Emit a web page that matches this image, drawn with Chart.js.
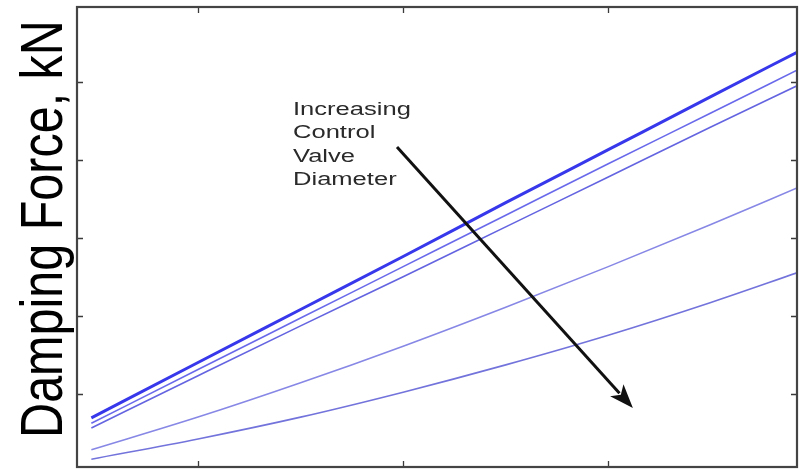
<!DOCTYPE html>
<html>
<head>
<meta charset="utf-8">
<script src="https://cdn.jsdelivr.net/npm/chart.js@4"></script>
<style>
  html, body { margin: 0; padding: 0; background: #ffffff; }
  #wrap { width: 799px; height: 469px; }
</style>
</head>
<body>
<div id="wrap"><canvas id="chart" width="799" height="469"></canvas></div>
<script>
// Piston velocity (m/s) sample points shared by all curves
const velocity = [0.48, 1.0, 1.5, 2.0, 2.5, 3.0, 3.5, 3.92];

// Damping force (kN) for each control valve diameter, smallest valve first
const forceValve1 = [0.69, 1.40, 2.08, 2.76, 3.45, 4.13, 4.81, 5.38];
const forceValve2 = [0.62, 1.31, 1.97, 2.63, 3.29, 3.95, 4.60, 5.15];
const forceValve3 = [0.56, 1.23, 1.87, 2.50, 3.14, 3.78, 4.42, 4.95];
const forceValve4 = [0.28, 0.70, 1.14, 1.61, 2.11, 2.63, 3.17, 3.64];
const forceValve5 = [0.16, 0.42, 0.70, 1.02, 1.37, 1.75, 2.17, 2.55];

// Axis tick positions (no tick labels are printed)
const xTickValues = [1, 2, 3];
const yTickValues = [1, 2, 3, 4, 5];

// Annotation: label lines and arrow (data coordinates)
const noteLines = ['Increasing', 'Control', 'Valve', 'Diameter'];
const noteAnchor = { x: 1.463, y: 4.575 };
const arrowFrom = { x: 1.970, y: 4.164 };
const arrowTo = { x: 3.120, y: 0.817 };

const series = [
  { data: forceValve1, color: 'rgb(55, 55, 235)', width: 3 },
  { data: forceValve2, color: 'rgb(105, 105, 235)', width: 1.6 },
  { data: forceValve3, color: 'rgb(100, 100, 225)', width: 1.6 },
  { data: forceValve4, color: 'rgb(135, 135, 230)', width: 1.6 },
  { data: forceValve5, color: 'rgb(115, 115, 220)', width: 1.6 }
];

const datasets = series.map(s => ({
  data: velocity.map((v, i) => ({ x: v, y: s.data[i] })),
  borderColor: s.color,
  borderWidth: s.width,
  pointRadius: 0,
  fill: false,
  cubicInterpolationMode: 'monotone'
}));

// Frame with inward tick marks on all four sides
const framePlugin = {
  id: 'frame',
  afterDatasetsDraw(chart) {
    const { ctx, chartArea: a, scales } = chart;
    ctx.save();
    ctx.strokeStyle = '#3a3a3a';
    ctx.lineWidth = 1.3;
    const tl = 6;
    ctx.beginPath();
    xTickValues.forEach(v => {
      const px = Math.round(scales.x.getPixelForValue(v)) + 0.5;
      ctx.moveTo(px, a.bottom); ctx.lineTo(px, a.bottom - tl);
      ctx.moveTo(px, a.top); ctx.lineTo(px, a.top + tl);
    });
    yTickValues.forEach(v => {
      const py = Math.round(scales.y.getPixelForValue(v)) + 0.5;
      ctx.moveTo(a.left, py); ctx.lineTo(a.left + tl, py);
      ctx.moveTo(a.right, py); ctx.lineTo(a.right - tl, py);
    });
    ctx.stroke();
    ctx.lineWidth = 2.2;
    ctx.strokeStyle = '#444444';
    ctx.strokeRect(a.left, a.top, a.right - a.left, a.bottom - a.top);
    ctx.restore();
  }
};

// Annotation text, arrow and the rotated y-axis title
const notePlugin = {
  id: 'notes',
  afterDraw(chart) {
    const { ctx, scales } = chart;
    ctx.save();
    // annotation lines
    ctx.fillStyle = '#2a2a2a';
    ctx.font = '17.5px "Liberation Sans", Arial, sans-serif';
    ctx.textBaseline = 'alphabetic';
    ctx.textAlign = 'left';
    const nx = scales.x.getPixelForValue(noteAnchor.x);
    const ny = scales.y.getPixelForValue(noteAnchor.y);
    noteLines.forEach((t, i) => {
      ctx.save();
      ctx.translate(nx, ny + i * 23.5);
      ctx.scale(1.46, 1);
      ctx.fillText(t, 0, 0);
      ctx.restore();
    });
    // arrow
    const x1 = scales.x.getPixelForValue(arrowFrom.x);
    const y1 = scales.y.getPixelForValue(arrowFrom.y);
    const x2 = scales.x.getPixelForValue(arrowTo.x);
    const y2 = scales.y.getPixelForValue(arrowTo.y);
    const ang = Math.atan2(y2 - y1, x2 - x1);
    const headLen = 24, headW = 9;
    const bx = x2 - headLen * Math.cos(ang), by = y2 - headLen * Math.sin(ang);
    ctx.strokeStyle = '#111111';
    ctx.fillStyle = '#111111';
    ctx.lineWidth = 3;
    ctx.beginPath();
    ctx.moveTo(x1, y1);
    ctx.lineTo(bx + 4 * Math.cos(ang), by + 4 * Math.sin(ang));
    ctx.stroke();
    ctx.beginPath();
    ctx.moveTo(x2, y2);
    ctx.lineTo(bx + headW * Math.sin(ang), by - headW * Math.cos(ang));
    ctx.lineTo(bx + 6 * Math.cos(ang), by + 6 * Math.sin(ang));
    ctx.lineTo(bx - headW * Math.sin(ang), by + headW * Math.cos(ang));
    ctx.closePath();
    ctx.fill();
    // y-axis title
    ctx.fillStyle = '#000000';
    ctx.font = '48.5px "Liberation Sans", Arial, sans-serif';
    ctx.textAlign = 'center';
    ctx.textBaseline = 'alphabetic';
    ctx.translate(62, 229);
    ctx.rotate(-Math.PI / 2);
    ctx.scale(1, 1.22);
    ctx.fillText('Damping Force, kN', 0, 0);
    ctx.restore();
  }
};

new Chart(document.getElementById('chart'), {
  type: 'line',
  data: { datasets },
  options: {
    responsive: false,
    animation: false,
    layout: { padding: { left: 77, top: 7, right: 2, bottom: 2 } },
    plugins: { legend: { display: false }, tooltip: { enabled: false } },
    scales: {
      x: { type: 'linear', min: 0.41, max: 3.92, display: false },
      y: { type: 'linear', min: 0.06, max: 5.96, display: false }
    }
  },
  plugins: [framePlugin, notePlugin]
});
</script>
</body>
</html>
